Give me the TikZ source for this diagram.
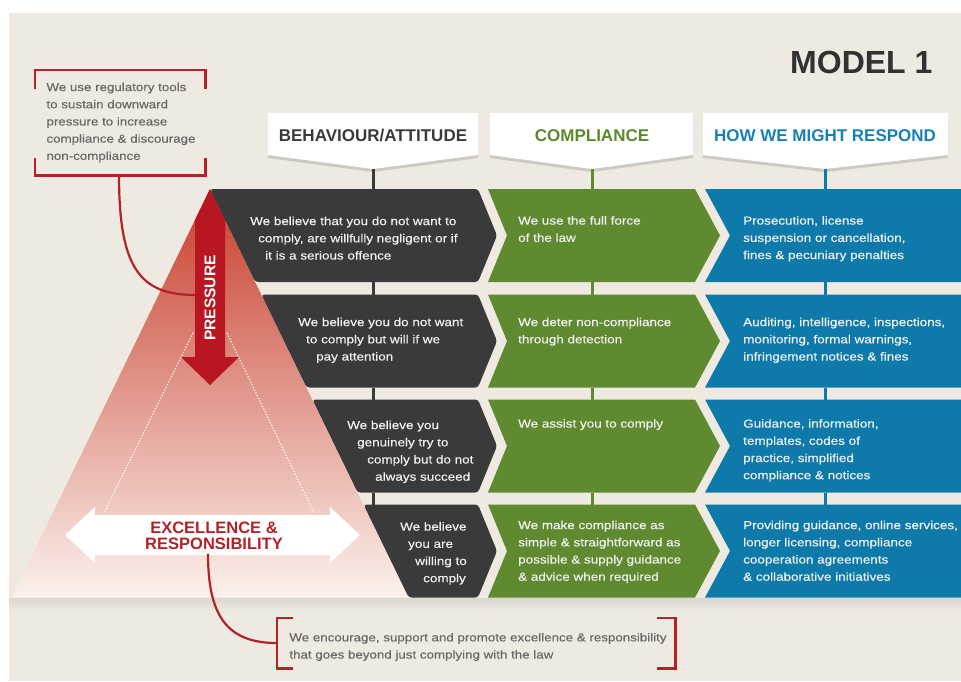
\documentclass[tikz,border=0pt]{standalone}
\usepackage{fontspec}
\setmainfont{Liberation Sans}
\newfontfamily\rowfont{Liberation Sans}[FakeStretch=1.16, FakeBold=0.4]
\usetikzlibrary{positioning, calc, shadows}
\definecolor{paper}{RGB}{238,234,225}
\definecolor{darkrow}{RGB}{58,58,58}
\definecolor{greenrow}{RGB}{96,138,48}
\definecolor{bluerow}{RGB}{14,122,170}
\definecolor{greenhead}{RGB}{92,137,44}
\definecolor{bluehead}{RGB}{24,128,184}
\definecolor{modelgray}{RGB}{50,50,50}
\definecolor{pressred}{RGB}{184,22,32}
\definecolor{markred}{RGB}{180,34,40}
\definecolor{notegray}{RGB}{105,105,105}
\definecolor{tritop}{RGB}{200,62,44}
\definecolor{trimid}{RGB}{224,142,118}
\definecolor{tribot}{RGB}{251,241,236}
\tikzset{
  Bracket/.style = {draw=markred, line width=2.6pt},
  Curve/.style = {draw=markred, line width=2.2pt},
  Link/.style = {line width=3pt},
  HeadBox/.style = {fill=white, drop shadow={shadow xshift=0pt, shadow yshift=-3pt, opacity=.3}},
  Head/.style = {font=\bfseries\fontsize{17}{19}\selectfont, inner sep=0pt},
  RowText/.style = {text=white!94!black, align=left, anchor=north west, inner sep=0pt,
                    font=\rowfont\fontsize{11.6}{17.2}\selectfont},
  Note/.style = {text=notegray, align=left, font=\rowfont\fontsize{11.5}{17.2}\selectfont},
  Dots/.style = {white, line width=1.2pt, dash pattern=on 1.2pt off 1.8pt},
}

\begin{document}
\begin{tikzpicture}[x=1pt, y=-1pt]
  \useasboundingbox (0,0) rectangle (961,681);
  \fill[white] (0,0) rectangle (961,681);
  \fill[paper] (9,13) rectangle (961,681);
  \shade[top color=black!8!paper, bottom color=paper] (9,598) rectangle (961,612);

  \node[font=\bfseries\fontsize{32}{36}\selectfont, text=modelgray, anchor=east] (model) at (936,62) {MODEL 1};

  % column headers
  \foreach \n/\l/\r/\c in {1/268/478/373, 2/490/693/592, 3/703/948/825} {
    \fill[HeadBox] (\l,113) -- (\r,113) -- (\r,155) -- (\c,169) -- (\l,155) -- cycle;
    \coordinate (hdtip\n) at (\c,169);
  }
  \node[Head, text=darkrow] (hd1) at (373,136) {BEHAVIOUR/ATTITUDE};
  \node[Head, text=greenhead] (hd2) at (592,136) {COMPLIANCE};
  \node[Head, text=bluehead] (hd3) at (825,136) {HOW WE MIGHT RESPOND};

  % pyramid
  \shade[top color=tritop, middle color=trimid, bottom color=tribot] (210,189) -- (12,597) -- (408,597) -- cycle;
  \draw[Dots] (193,333) -- (104,513);
  \draw[Dots] (227,333) -- (314,513);

  % top note
  \node[Note, minimum width=170pt, minimum height=105pt] (pn) at (121,122.5)
    {We use regulatory tools\\to sustain downward\\pressure to increase\\compliance \& discourage\\non-compliance};
  \draw[Bracket] ([shift={(-1pt,-19pt)}]pn.north west) -- ([xshift=-1pt]pn.north west) -- ([xshift=-1pt]pn.north east) -- ([shift={(-1pt,-19pt)}]pn.north east);
  \draw[Bracket] ([shift={(-1pt,17pt)}]pn.south west) -- ([xshift=-1pt]pn.south west) -- ([xshift=-1pt]pn.south east) -- ([shift={(-1pt,17pt)}]pn.south east);
  \coordinate (prjoin) at (196,295);
  \draw[Curve] ([xshift=-2pt]pn.south) .. controls +(0,95) and +(-55,0) .. (prjoin);

  % pressure arrow
  \fill[pressred] (210,189) -- (225,220) -- (225,357) -- (239,357) -- (210,385)
    -- (181,357) -- (195,357) -- (195,220) -- cycle;
  \node[rotate=90, text=white, font=\bfseries\fontsize{15.5}{17}\selectfont] (prtext) at (210,298) {PRESSURE};

  % excellence arrow
  \fill[white] (65,535) -- (95,507) -- (95,515) -- (330,515) -- (330,507) -- (360,535)
    -- (330,563) -- (330,555) -- (95,555) -- (95,563) -- cycle;
  \node[align=center, text=markred, font=\bfseries\fontsize{16.5}{16.5}\selectfont] (ex) at (214,536)
    {EXCELLENCE \&\\RESPONSIBILITY};

  % bottom note
  \node[Note, minimum width=398pt, minimum height=50pt] (en) at (478,647)
    {We encourage, support and promote excellence \& responsibility\\that goes beyond just complying with the law};
  \draw[Bracket] ([shift={(14pt,4pt)}]en.north west) -- ([shift={(-2pt,4pt)}]en.north west) -- ([shift={(-2pt,4pt)}]en.south west) -- ([shift={(14pt,4pt)}]en.south west);
  \draw[Bracket] ([shift={(-20pt,4pt)}]en.north east) -- ([shift={(-2pt,4pt)}]en.north east) -- ([shift={(-2pt,4pt)}]en.south east) -- ([shift={(-20pt,4pt)}]en.south east);
  \draw[Curve] ([xshift=-6pt]ex.south) .. controls +(0,62) and +(-50,0) .. ([shift={(-2pt,4pt)}]en.west);

  % rows
  \foreach \i/\t in {1/189, 2/294.5, 3/399.5, 4/504.5} {
    \pgfmathsetmacro{\b}{\t+93}
    \pgfmathsetmacro{\m}{\t+46.5}
    \pgfmathsetmacro{\xt}{210+0.4865*(\t-189)}
    \pgfmathsetmacro{\xb}{210+0.4865*(\b-189)}
    \fill[darkrow, rounded corners=3pt] (\xt,\t) -- (478,\t) -- (497,\m) -- (478,\b) -- (\xb,\b) -- cycle;
    \fill[greenrow] (488,\t) -- (695,\t) -- (720,\m) -- (695,\b) -- (488,\b) -- (507,\m) -- cycle;
    \fill[bluerow] (705,\t) -- (961,\t) -- (961,\b) -- (705,\b) -- (730,\m) -- cycle;
    \coordinate (dktop\i) at (373,\t);
    \coordinate (dkbot\i) at (373,\b);
    \coordinate (gntop\i) at (592,\t);
    \coordinate (gnbot\i) at (592,\b);
    \coordinate (bltop\i) at (825,\t);
    \coordinate (blbot\i) at (825,\b);
  }
  \draw[Link, darkrow] (hdtip1) -- (dktop1);
  \draw[Link, greenrow] (hdtip2) -- (gntop1);
  \draw[Link, bluerow] (hdtip3) -- (bltop1);
  \foreach \i/\j in {1/2, 2/3, 3/4} {
    \draw[Link, darkrow] (dkbot\i) -- (dktop\j);
    \draw[Link, greenrow] (gnbot\i) -- (gntop\j);
    \draw[Link, bluerow] (blbot\i) -- (bltop\j);
  }

  % behaviour texts
  \node[RowText] (dt1) at (250,216.5) {We believe that you do not want to\\\hspace*{8pt}comply, are willfully negligent or if\\\hspace*{15pt}it is a serious offence};
  \node[RowText] (dt2) at (298,317.5) {We believe you do not want\\\hspace*{8pt}to comply but will if we\\\hspace*{18pt}pay attention};
  \node[RowText] (dt3) at (347,420.5) {We believe you\\\hspace*{10pt}genuinely try to\\\hspace*{20pt}comply but do not\\\hspace*{28pt}always succeed};
  \node[RowText] (dt4) at (400,522) {We believe\\\hspace*{8pt}you are\\\hspace*{15pt}willing to\\\hspace*{23pt}comply};

  % compliance texts
  \node[RowText] (gt1) at (518,216) {We use the full force\\of the law};
  \node[RowText] (gt2) at (518,317.5) {We deter non-compliance\\through detection};
  \node[RowText] (gt3) at (518,419) {We assist you to comply};
  \node[RowText] (gt4) at (518,520.5) {We make compliance as\\simple \& straightforward as\\possible \& supply guidance\\\& advice when required};

  % response texts
  \node[RowText] (bt1) at (743,216) {Prosecution, license\\suspension or cancellation,\\fines \& pecuniary penalties};
  \node[RowText] (bt2) at (743,317.5) {Auditing, intelligence, inspections,\\monitoring, formal warnings,\\infringement notices \& fines};
  \node[RowText] (bt3) at (743,419) {Guidance, information,\\templates, codes of\\practice, simplified\\compliance \& notices};
  \node[RowText] (bt4) at (743,520.5) {Providing guidance, online services,\\longer licensing, compliance\\cooperation agreements\\\& collaborative initiatives};
\end{tikzpicture}
\end{document}
